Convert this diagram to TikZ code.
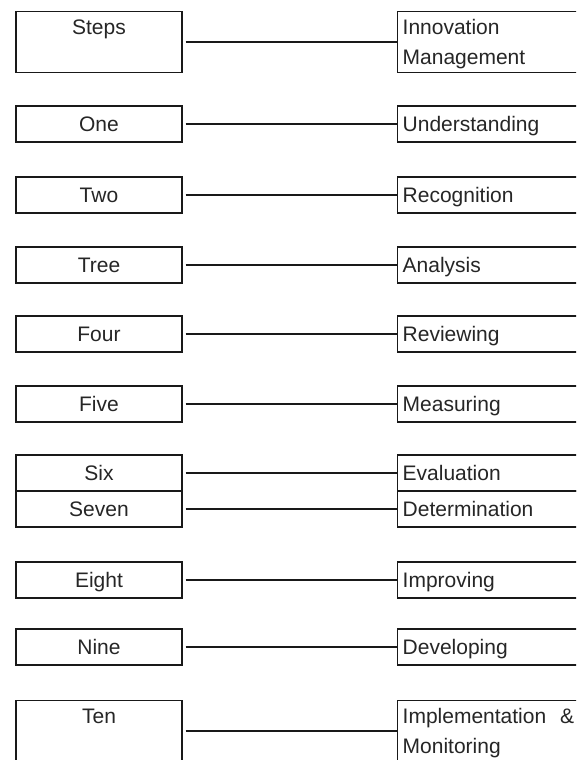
\documentclass[tikz,border=0pt]{standalone}
\usepackage{fontspec}
\setmainfont{Liberation Sans}
\begin{document}
\begin{tikzpicture}[x=1pt,y=-1pt,
  box/.style={draw=black!90, line width=1.4pt, inner ysep=0pt, inner xsep=5pt,
    font=\fontsize{21}{30}\selectfont, text=black!85},
  lone/.style={box, minimum width=166pt, minimum height=36pt, text height=15pt, text depth=0pt},
  ltwo/.style={box, minimum width=166pt, minimum height=61pt, align=center},
  rone/.style={box, anchor=west, text width=220pt, align=left, minimum height=36pt, text height=15pt, text depth=0pt},
  rtwo/.style={box, anchor=west, text width=220pt, align=left, minimum height=61pt},
  link/.style={draw=black!90, line width=1.4pt}
]
\useasboundingbox (0,0) rectangle (576,760);
\clip (0,0) rectangle (576,760);
\fill[white] (0,0) rectangle (576,760);

% left boxes
\node[ltwo] (l0) at (99,42) {Steps\\\mbox{}};
\node[lone] (l1) at (99,124) {One};
\node[lone] (l2) at (99,195) {Two};
\node[lone] (l3) at (99,265) {Tree};
\node[lone] (l4) at (99,334) {Four};
\node[lone] (l5) at (99,404) {Five};
\node[lone] (l6) at (99,473) {Six};
\node[lone] (l7) at (99,509) {Seven};
\node[lone] (l8) at (99,580) {Eight};
\node[lone] (l9) at (99,647) {Nine};
\node[ltwo] (l10) at (99,731) {Ten\\\mbox{}};

% right boxes
\node[rtwo] (r0) at (397,42) {Innovation\\\raisebox{0pt}[\height][0pt]{Management}};
\node[rone] (r1) at (397,124) {Understanding};
\node[rone] (r2) at (397,195) {Recognition};
\node[rone] (r3) at (397,265) {Analysis};
\node[rone] (r4) at (397,334) {Reviewing};
\node[rone] (r5) at (397,404) {Measuring};
\node[rone] (r6) at (397,473) {Evaluation};
\node[rone] (r7) at (397,509) {Determination};
\node[rone] (r8) at (397,580) {Improving};
\node[rone] (r9) at (397,647) {Developing};
\node[rtwo] (r10) at (397,731) {Implementation\hspace{14pt}\&\\\raisebox{0pt}[\height][0pt]{Monitoring}};

% connectors
\foreach \i in {0,...,10}{
  \draw[link] ([xshift=3pt]l\i.east) -- (r\i.west);
}
\end{tikzpicture}
\end{document}
